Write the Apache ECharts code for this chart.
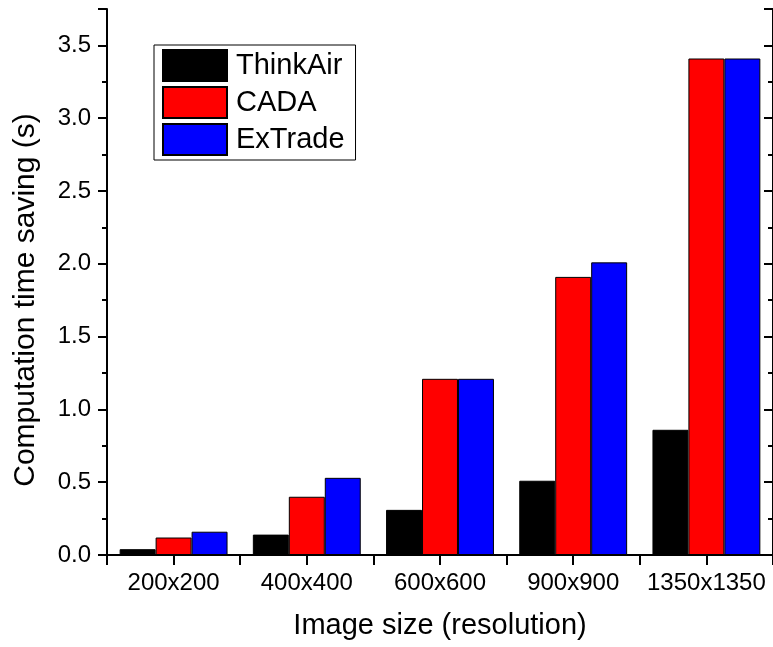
<!DOCTYPE html>
<html>
<head>
<meta charset="utf-8">
<script src="https://cdn.jsdelivr.net/npm/echarts@6/dist/echarts.min.js"></script>
<style>
  html, body { margin: 0; padding: 0; background: #fff; }
  #main { width: 773px; height: 647px; }
</style>
</head>
<body>
<div id="main"></div>
<script>
// data
const categories = ['200x200', '400x400', '600x600', '900x900', '1350x1350'];
const thinkAir = [0.04, 0.14, 0.31, 0.51, 0.86];
const cada = [0.12, 0.40, 1.21, 1.91, 3.41];
const exTrade = [0.16, 0.53, 1.21, 2.01, 3.41];
const yMin = 0;
const yMax = 3.75;

const font = 'Liberation Sans';
const axisColor = '#000';

function xAxisCopy(pos, inside, aligned, len, showLine) {
  return {
    type: 'category',
    data: categories,
    position: pos,
    axisLine: { show: showLine, lineStyle: { color: axisColor, width: 2 } },
    axisTick: { show: true, inside: inside, alignWithLabel: aligned, length: len, lineStyle: { color: axisColor, width: 2 } },
    axisLabel: { show: false },
    splitLine: { show: false }
  };
}

function yAxisCopy(pos, inside, interval, len, showLine) {
  return {
    type: 'value',
    position: pos,
    min: yMin,
    max: yMax,
    interval: interval,
    axisLine: { show: showLine, lineStyle: { color: axisColor, width: 2 } },
    axisTick: { show: true, inside: inside, length: len, lineStyle: { color: axisColor, width: 2 } },
    axisLabel: { show: false },
    splitLine: { show: false }
  };
}

let bottomAxis = xAxisCopy('bottom', false, true, 10, true);
bottomAxis.axisLabel = { show: true, interval: 0, hideOverlap: false, fontFamily: font, fontSize: 24, color: '#000', margin: 16 };
bottomAxis.name = 'Image size (resolution)';
bottomAxis.nameLocation = 'middle';
bottomAxis.nameGap = 56;
bottomAxis.nameTextStyle = { fontFamily: font, fontSize: 29, color: '#000' };

let leftAxis = yAxisCopy('left', false, 0.5, 9, true);
leftAxis.axisLabel = {
  show: true, fontFamily: font, fontSize: 24, color: '#000', margin: 16,
  formatter: v => (Math.abs(v * 2 - Math.round(v * 2)) < 1e-6 ? v.toFixed(1) : '')
};
leftAxis.name = 'Computation time saving (s)';
leftAxis.nameLocation = 'middle';
leftAxis.nameGap = 66;
// nudge the rotated title a little lower, as in the original
leftAxis.nameTextStyle = { fontFamily: font, fontSize: 30, color: '#000', padding: [0, 36, 0, 0] };

let barStyle = c => ({ color: c, borderColor: '#000', borderWidth: 1 });

let option = {
  animation: false,
  backgroundColor: '#fff',
  grid: { left: 107, right: 0, top: 9, bottom: 92 },
  legend: {
    left: 154,
    top: 45,
    orient: 'vertical',
    icon: 'rect',
    itemWidth: 64,
    itemHeight: 31,
    itemGap: 4,
    padding: [4, 11, 4, 8],
    borderColor: '#000',
    borderWidth: 1,
    backgroundColor: '#fff',
    textStyle: { fontFamily: font, fontSize: 29, color: '#000', padding: [0, 0, 0, 4] },
    data: ['ThinkAir', 'CADA', 'ExTrade']
  },
  xAxis: [
    bottomAxis,
    xAxisCopy('bottom', false, false, 5, false),
    xAxisCopy('top', true, false, 10, true),
    xAxisCopy('top', true, true, 5, false)
  ],
  yAxis: [
    leftAxis,
    yAxisCopy('left', false, 0.25, 5, false),
    yAxisCopy('right', true, 0.5, 9, true),
    yAxisCopy('right', true, 0.25, 5, false)
  ],
  series: [
    { name: 'ThinkAir', type: 'bar', data: thinkAir, barGap: '0%', barCategoryGap: '19%', itemStyle: barStyle('#000000') },
    { name: 'CADA', type: 'bar', data: cada, barGap: '0%', barCategoryGap: '19%', itemStyle: barStyle('#ff0000') },
    { name: 'ExTrade', type: 'bar', data: exTrade, barGap: '0%', barCategoryGap: '19%', itemStyle: barStyle('#0000ff') }
  ]
};

let chart = echarts.init(document.getElementById('main'));
chart.setOption(option);
</script>
</body>
</html>
